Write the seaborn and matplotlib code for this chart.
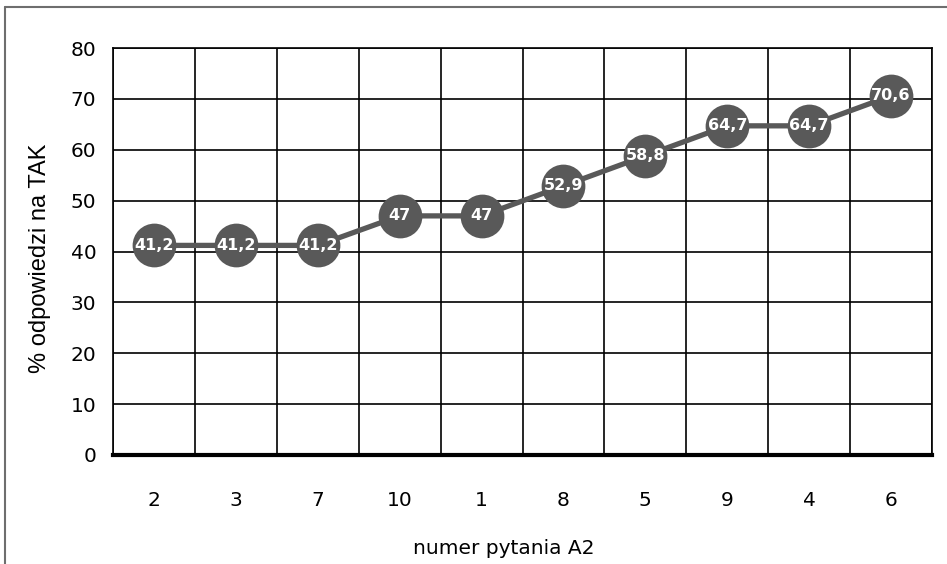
import pandas as pd
import seaborn as sns
import matplotlib.pyplot as plt
from matplotlib.lines import Line2D

questions = ["2", "3", "7", "10", "1", "8", "5", "9", "4", "6"]
pct_yes = [41.2, 41.2, 41.2, 47, 47, 52.9, 58.8, 64.7, 64.7, 70.6]
point_labels = ["41,2", "41,2", "41,2", "47", "47", "52,9", "58,8", "64,7", "64,7", "70,6"]

df = pd.DataFrame({"pytanie": questions, "tak": pct_yes})

sns.set_style("white")
plt.rcParams['font.family'] = ['DejaVu Sans']
plt.rcParams['text.color'] = 'black'
plt.rcParams['xtick.color'] = 'black'
plt.rcParams['ytick.color'] = 'black'

W, H = 947, 564
fig = plt.figure(figsize=(W / 100, H / 100), dpi=100)
ax = fig.add_axes([113 / W, 1 - 455 / H, 819 / W, 407 / H])

grey = "#595959"
sns.lineplot(data=df, x="pytanie", y="tak", sort=False, ax=ax, color=grey,
             linewidth=3.8, marker="o", markersize=31.5, markeredgewidth=0,
             zorder=3)

for i, (v, lab) in enumerate(zip(pct_yes, point_labels)):
    ax.text(i, v, lab, ha="center", va="center", color="white",
            fontsize=11.5, fontweight="bold", zorder=4)

ax.set_xlim(-0.5, len(questions) - 0.5)
ax.set_ylim(0, 80)
ax.set_yticks(range(0, 81, 10))
ax.set_xticks(range(len(questions)))
ax.set_xticks([i + 0.5 for i in range(-1, len(questions))], minor=True)

ax.grid(False)
ax.yaxis.grid(True, which="major", color="black", linewidth=1.2)
ax.xaxis.grid(True, which="minor", color="black", linewidth=1.2)
ax.set_axisbelow(True)
for s in ["top", "right", "left"]:
    ax.spines[s].set_color("black")
    ax.spines[s].set_linewidth(1.2)
ax.spines["bottom"].set_color("black")
ax.spines["bottom"].set_linewidth(3)

ax.tick_params(axis="both", which="both", length=0, labelsize=14.5)
ax.tick_params(axis="x", pad=26)
ax.tick_params(axis="y", pad=12)

ax.set_xlabel("")
ax.set_ylabel("")
fig.text(504 / W, 1 - 548 / H, "numer pytania A2", fontsize=14.5,
         ha="center", va="center")
fig.text(40 / W, 1 - 258 / H, "% odpowiedzi na TAK", fontsize=17,
         family="Liberation Sans", rotation=90, ha="center", va="center")

# outer chart frame
fc = "#6e6e6e"
fig.add_artist(Line2D([5 / W, 5 / W], [0, 1 - 7 / H], transform=fig.transFigure, color=fc, linewidth=1.5))
fig.add_artist(Line2D([5 / W, 1], [1 - 7 / H, 1 - 7 / H], transform=fig.transFigure, color=fc, linewidth=1.5))

plt.savefig("out.png", dpi=100)
